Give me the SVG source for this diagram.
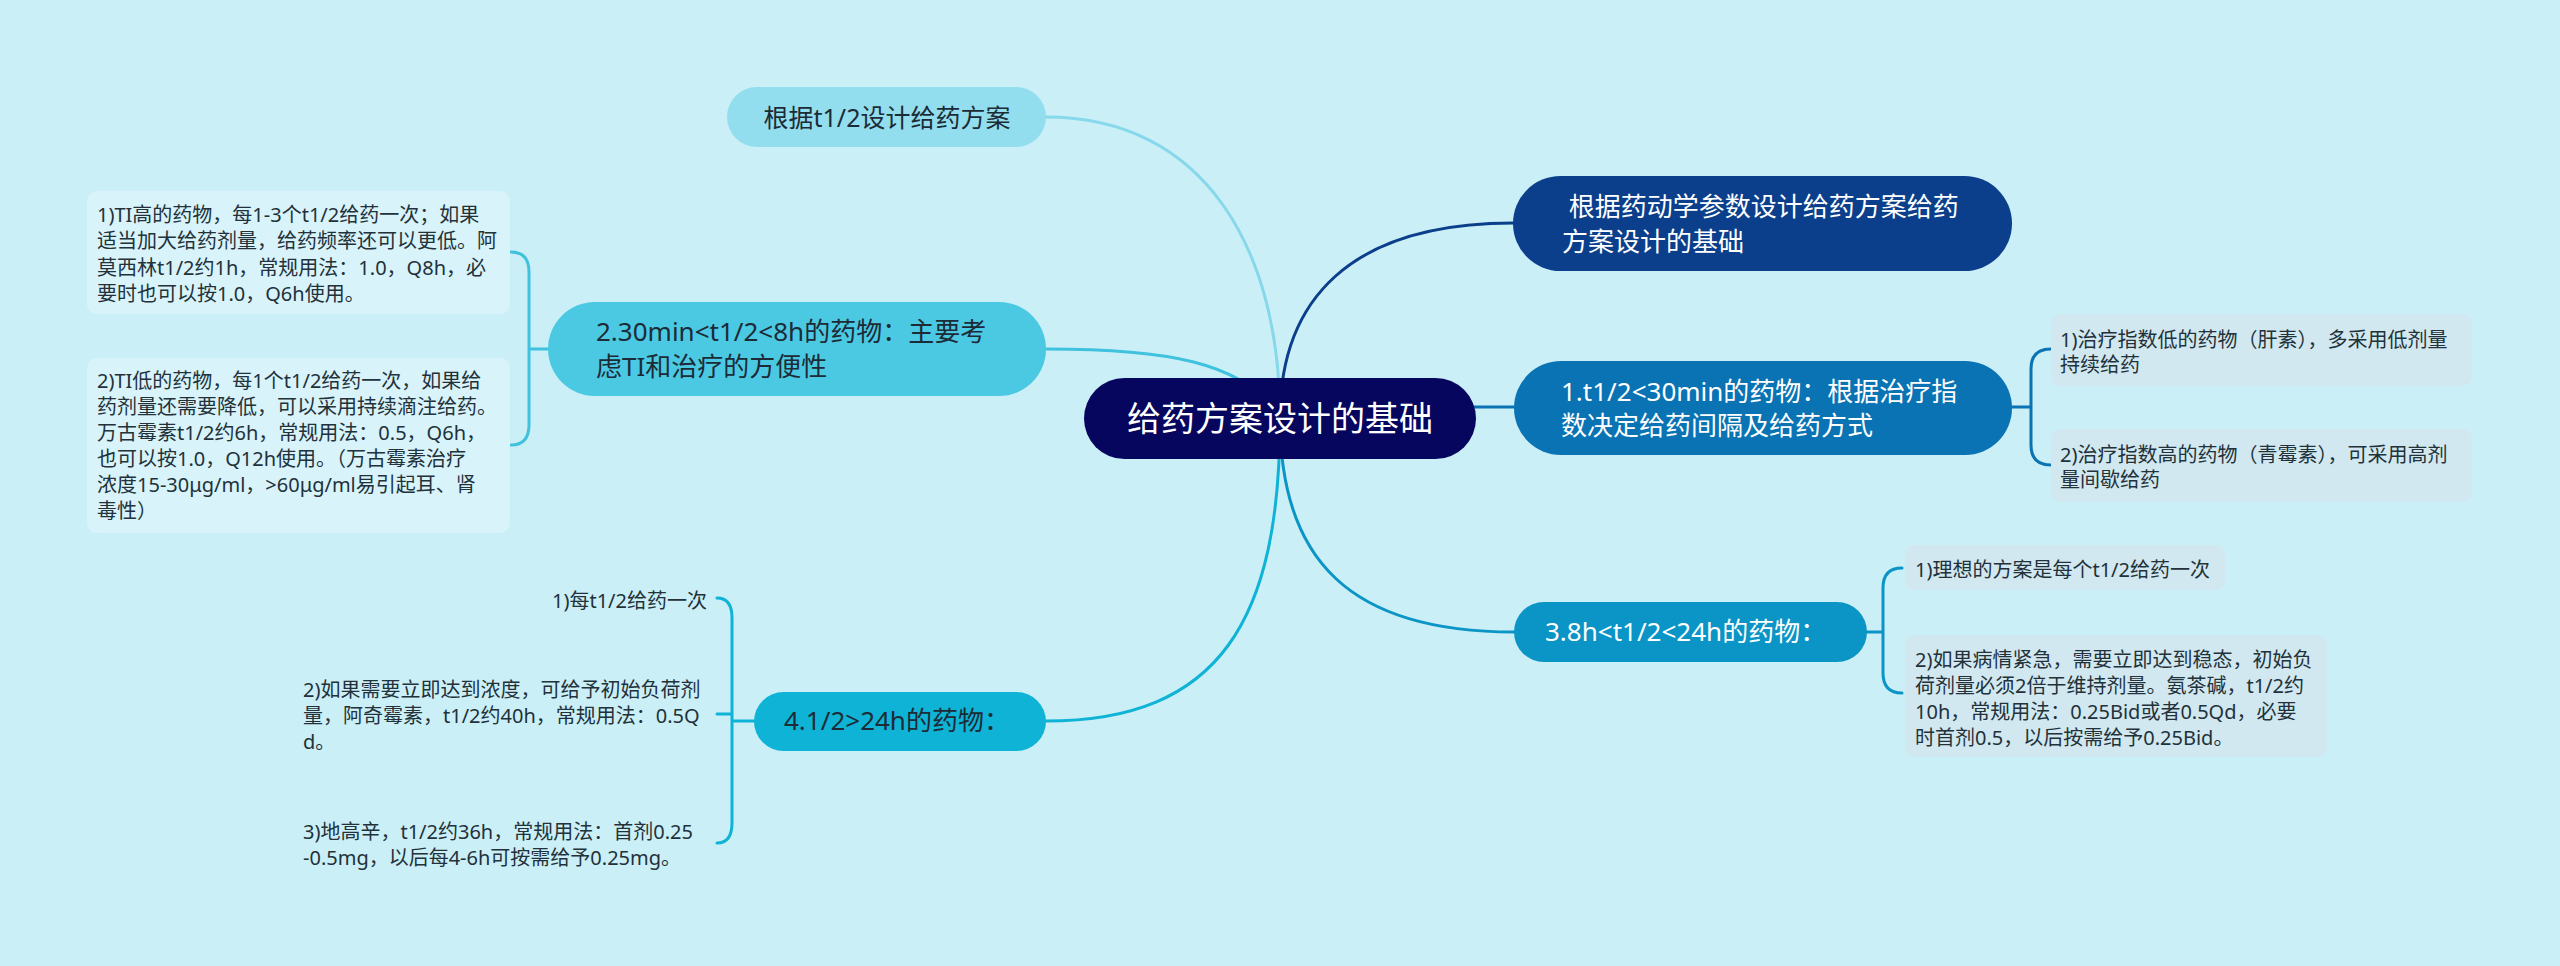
<svg xmlns="http://www.w3.org/2000/svg" width="2560" height="966" viewBox="0 0 2560 966">
<style>
text{font-family:"Noto Sans","Noto Sans CJK SC",sans-serif;}
.t26{font-size:26px;}
.t20{font-size:20px;fill:#22313a;}
.w{fill:#ffffff;}
.d{fill:#1c2b36;}
.c{fill:none;stroke-width:3;stroke-linecap:round;}
.boxL{fill:#d8f3f9;}
.boxR{fill:#d1e8f0;}
</style>
<rect x="0" y="0" width="2560" height="966" fill="#cbeff7"/>
<g id="connectors">
<path class="c" stroke="#86d8ea" d="M1046 117 C1205 117 1280 250 1280 418"/>
<path class="c" stroke="#0b3f8b" d="M1280 418 C1280 300 1350 223 1513 223"/>
<path class="c" stroke="#3fc2de" d="M1046 349 C1160 349 1245 360 1280 418"/>
<path class="c" stroke="#0a73b3" d="M1280 407 H1514"/>
<path class="c" stroke="#0a95c6" d="M1280 418 C1280 560 1350 632 1514 632"/>
<path class="c" stroke="#0fb3d6" d="M1046 721 C1220 721 1280 620 1280 418"/>
<path class="c" stroke="#0a73b3" d="M2012 407 H2031 M2051 349 Q2031 349 2031 369 V445 Q2031 465 2051 465"/>
<path class="c" stroke="#0a95c6" d="M1867 632 H1883 M1902 568 Q1883 568 1883 588 V673 Q1883 693 1902 693"/>
<path class="c" stroke="#3fc2de" d="M548 349 H529 M511 252 Q529 252 529 272 V425 Q529 445 511 445"/>
<path class="c" stroke="#0fb3d6" d="M754 721 H732 M717 598 Q732 598 732 618 V823 Q732 843 717 843 M717 714 H732"/>
</g>
<g id="root">
<rect x="1084" y="378" width="392" height="81" rx="40.5" fill="#06065e"/>
<text x="1280" y="431" text-anchor="middle" font-size="34" class="w">给药方案设计的基础</text>
</g>
<g id="n-top">
<rect x="727" y="87" width="319" height="60" rx="30" fill="#93deee"/>
<text x="887" y="127" text-anchor="middle" font-size="25" class="d">根据t1/2设计给药方案</text>
</g>
<g id="n-navy">
<rect x="1513" y="176" width="499" height="95" rx="47.5" fill="#0b3f8b"/>
<text class="t26 w" xml:space="preserve" style="white-space:pre"><tspan x="1562" y="216"> 根据药动学参数设计给药方案给药</tspan><tspan x="1562" y="251">方案设计的基础</tspan></text>
</g>
<g id="n1">
<rect x="1514" y="361" width="498" height="94" rx="47" fill="#0a73b3"/>
<text class="t26 w"><tspan x="1561" y="401">1.t1/2&lt;30min的药物：根据治疗指</tspan><tspan x="1561" y="435">数决定给药间隔及给药方式</tspan></text>
</g>
<g id="n1-c1">
<rect class="boxR" x="2051" y="314" width="421" height="72" rx="9"/>
<text class="t20"><tspan x="2060" y="347">1)治疗指数低的药物（肝素），多采用低剂量</tspan><tspan x="2060" y="372">持续给药</tspan></text>
</g>
<g id="n1-c2">
<rect class="boxR" x="2051" y="429" width="421" height="73" rx="9"/>
<text class="t20"><tspan x="2060" y="462">2)治疗指数高的药物（青霉素），可采用高剂</tspan><tspan x="2060" y="487">量间歇给药</tspan></text>
</g>
<g id="n2">
<rect x="548" y="302" width="498" height="94" rx="47" fill="#4bc9e3"/>
<text class="t26 d"><tspan x="596" y="341">2.30min&lt;t1/2&lt;8h的药物：主要考</tspan><tspan x="596" y="376">虑TI和治疗的方便性</tspan></text>
</g>
<g id="n2-c1">
<rect class="boxL" x="87" y="191" width="423" height="123" rx="10"/>
<text class="t20"><tspan x="97" y="222">1)TI高的药物，每1-3个t1/2给药一次；如果</tspan><tspan x="97" y="248">适当加大给药剂量，给药频率还可以更低。阿</tspan><tspan x="97" y="275">莫西林t1/2约1h，常规用法：1.0，Q8h，必</tspan><tspan x="97" y="301">要时也可以按1.0，Q6h使用。</tspan></text>
</g>
<g id="n2-c2">
<rect class="boxL" x="87" y="358" width="423" height="175" rx="10"/>
<text class="t20"><tspan x="97" y="388">2)TI低的药物，每1个t1/2给药一次，如果给</tspan><tspan x="97" y="414">药剂量还需要降低，可以采用持续滴注给药。</tspan><tspan x="97" y="440">万古霉素t1/2约6h，常规用法：0.5，Q6h，</tspan><tspan x="97" y="466">也可以按1.0，Q12h使用。（万古霉素治疗</tspan><tspan x="97" y="492">浓度15-30μg/ml，&gt;60μg/ml易引起耳、肾</tspan><tspan x="97" y="518">毒性）</tspan></text>
</g>
<g id="n3">
<rect x="1514" y="602" width="353" height="60" rx="30" fill="#0a95c6"/>
<text x="1545" y="641" class="t26 w">3.8h&lt;t1/2&lt;24h的药物：</text>
</g>
<g id="n3-c1">
<rect class="boxR" x="1905" y="545" width="320" height="45" rx="9"/>
<text x="1915" y="577" class="t20">1)理想的方案是每个t1/2给药一次</text>
</g>
<g id="n3-c2">
<rect class="boxR" x="1905" y="635" width="422" height="122" rx="9"/>
<text class="t20"><tspan x="1915" y="667">2)如果病情紧急，需要立即达到稳态，初始负</tspan><tspan x="1915" y="693">荷剂量必须2倍于维持剂量。氨茶碱，t1/2约</tspan><tspan x="1915" y="719">10h，常规用法：0.25Bid或者0.5Qd，必要</tspan><tspan x="1915" y="745">时首剂0.5，以后按需给予0.25Bid。</tspan></text>
</g>
<g id="n4">
<rect x="754" y="692" width="292" height="59" rx="29.5" fill="#0fb3d6"/>
<text x="784" y="730" class="t26 d">4.1/2&gt;24h的药物：</text>
</g>
<g id="n4-c1">
<text x="707" y="608" text-anchor="end" class="t20">1)每t1/2给药一次</text>
</g>
<g id="n4-c2">
<text class="t20"><tspan x="303" y="697">2)如果需要立即达到浓度，可给予初始负荷剂</tspan><tspan x="303" y="723">量，阿奇霉素，t1/2约40h，常规用法：0.5Q</tspan><tspan x="303" y="749">d。</tspan></text>
</g>
<g id="n4-c3">
<text class="t20"><tspan x="303" y="839">3)地高辛，t1/2约36h，常规用法：首剂0.25</tspan><tspan x="303" y="865">-0.5mg，以后每4-6h可按需给予0.25mg。</tspan></text>
</g>
</svg>
